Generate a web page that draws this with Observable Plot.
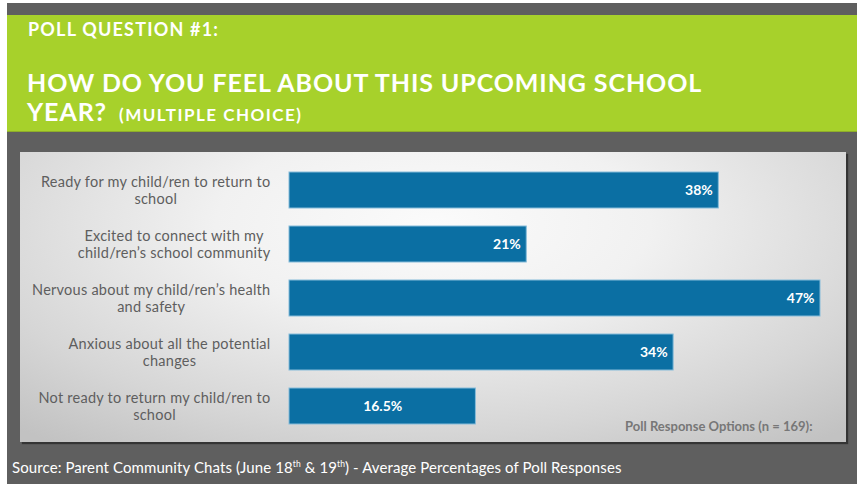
<!DOCTYPE html>
<html>
<head>
<meta charset="utf-8">
<script src="https://cdn.jsdelivr.net/npm/d3@7"></script>
<script src="https://cdn.jsdelivr.net/npm/@observablehq/plot@0.6"></script>
<style>
  html, body { margin: 0; padding: 0; background: #ffffff; }
  #page { position: relative; width: 857px; height: 484px; overflow: hidden; font-family: Lato, "Open Sans", sans-serif; }
  #bg { position: absolute; left: 7px; top: 3px; width: 850px; height: 481px; background: #5f5f5f; }
  #band { position: absolute; left: 7px; top: 15px; width: 850px; height: 116px; background: #a7d12b; border-bottom: 1px solid #8fae2a; }
  .t1 { position: absolute; left: 28px; top: 18px; color: #fff; font-weight: bold; font-size: 18px; letter-spacing: 1.2px; white-space: nowrap; }
  .t2 { position: absolute; left: 27px; top: 68px; color: #fff; font-weight: bold; font-size: 25px; letter-spacing: 0.9px; line-height: 29px; white-space: nowrap; }
  .t2 .small { font-size: 17px; letter-spacing: 1.5px; margin-left: 12px; }
  #panel { position: absolute; left: 20px; top: 152px; width: 826px; height: 290px;
    background: radial-gradient(ellipse 75% 95% at 50% 25%, #fbfbfb 0%, #f1f1f1 35%, #d6d6d6 75%, #c2c2c2 100%);
    box-shadow: 2px 2px 1px rgba(0,0,0,0.45); overflow: hidden; }
  #panel svg { position: absolute; left: 0; top: 0; }
  #source { position: absolute; left: 12px; top: 458px; color: #fff; font-size: 15px; letter-spacing: 0.1px; white-space: nowrap; }
  #source sup { font-size: 8.5px; vertical-align: 6px; line-height: 0; }
</style>
</head>
<body>
<div id="page">
  <div id="bg"></div>
  <div id="band"></div>
  <div class="t1">POLL QUESTION #1:</div>
  <div class="t2">HOW DO YOU FEEL ABOUT THIS UPCOMING SCHOOL<br>YEAR?<span class="small">(MULTIPLE CHOICE)</span></div>
  <div id="panel"></div>
  <div id="source">Source: Parent Community Chats (June 18<sup>th</sup> &amp; 19<sup>th</sup>) - Average Percentages of Poll Responses</div>
</div>
<script>
const categories = [
  "Ready for my child/ren to return to\nschool",
  "Excited to connect with my\nchild/ren\u2019s school community",
  "Nervous about my child/ren\u2019s health\nand safety",
  "Anxious about all the potential\nchanges",
  "Not ready to return my child/ren to\nschool"
];
const values = [38, 21, 47, 34, 16.5];
const valueLabels = ["38%", "21%", "47%", "34%", "16.5%"];
const note = "Poll Response Options (n = 169):";

const data = categories.map((c, i) => ({category: c, value: values[i], label: valueLabels[i]}));

const chart = Plot.plot({
  width: 826,
  height: 291,
  marginLeft: 269,
  marginRight: 26,
  marginTop: 0,
  marginBottom: 0,
  x: {domain: [0, 47], axis: null},
  y: {domain: categories, axis: null, padding: 0.34},
  style: {background: "transparent", fontFamily: "Lato, 'Open Sans', sans-serif", overflow: "visible"},
  marks: [
    Plot.barX(data, {x: "value", y: "category", fill: "#0b6fa3", stroke: "#86bcd9", strokeWidth: 1}),
    Plot.text(data.filter(d => d.value >= 20), {x: "value", y: "category", text: "label", textAnchor: "end", dx: -6, fill: "white", fontWeight: "bold", fontSize: 14}),
    Plot.text(data.filter(d => d.value < 20), {x: d => d.value / 2, y: "category", text: "label", textAnchor: "middle", fill: "white", fontWeight: "bold", fontSize: 14}),
    Plot.text(data, {y: "category", text: "category", frameAnchor: "left", textAnchor: "end", dx: -19, fill: "#5e5e5e", fontSize: 14.5, lineHeight: 1.17}),
    Plot.text([note], {text: d => d, frameAnchor: "bottom-right", textAnchor: "end", lineAnchor: "middle", dx: -8, dy: -17, fill: "#777", fontWeight: "bold", fontSize: 13})
  ]
});
document.getElementById("panel").appendChild(chart);

// category labels: letter spacing, then center each label's lines within its own right-aligned block
chart.querySelectorAll("text").forEach(t => {
  const spans = t.querySelectorAll("tspan");
  if (spans.length < 2) return;
  t.style.letterSpacing = "0.25px";
  const w = t.getBBox().width;
  t.setAttribute("text-anchor", "middle");
  spans.forEach(s => s.setAttribute("x", -w / 2));
});
</script>
</body>
</html>
